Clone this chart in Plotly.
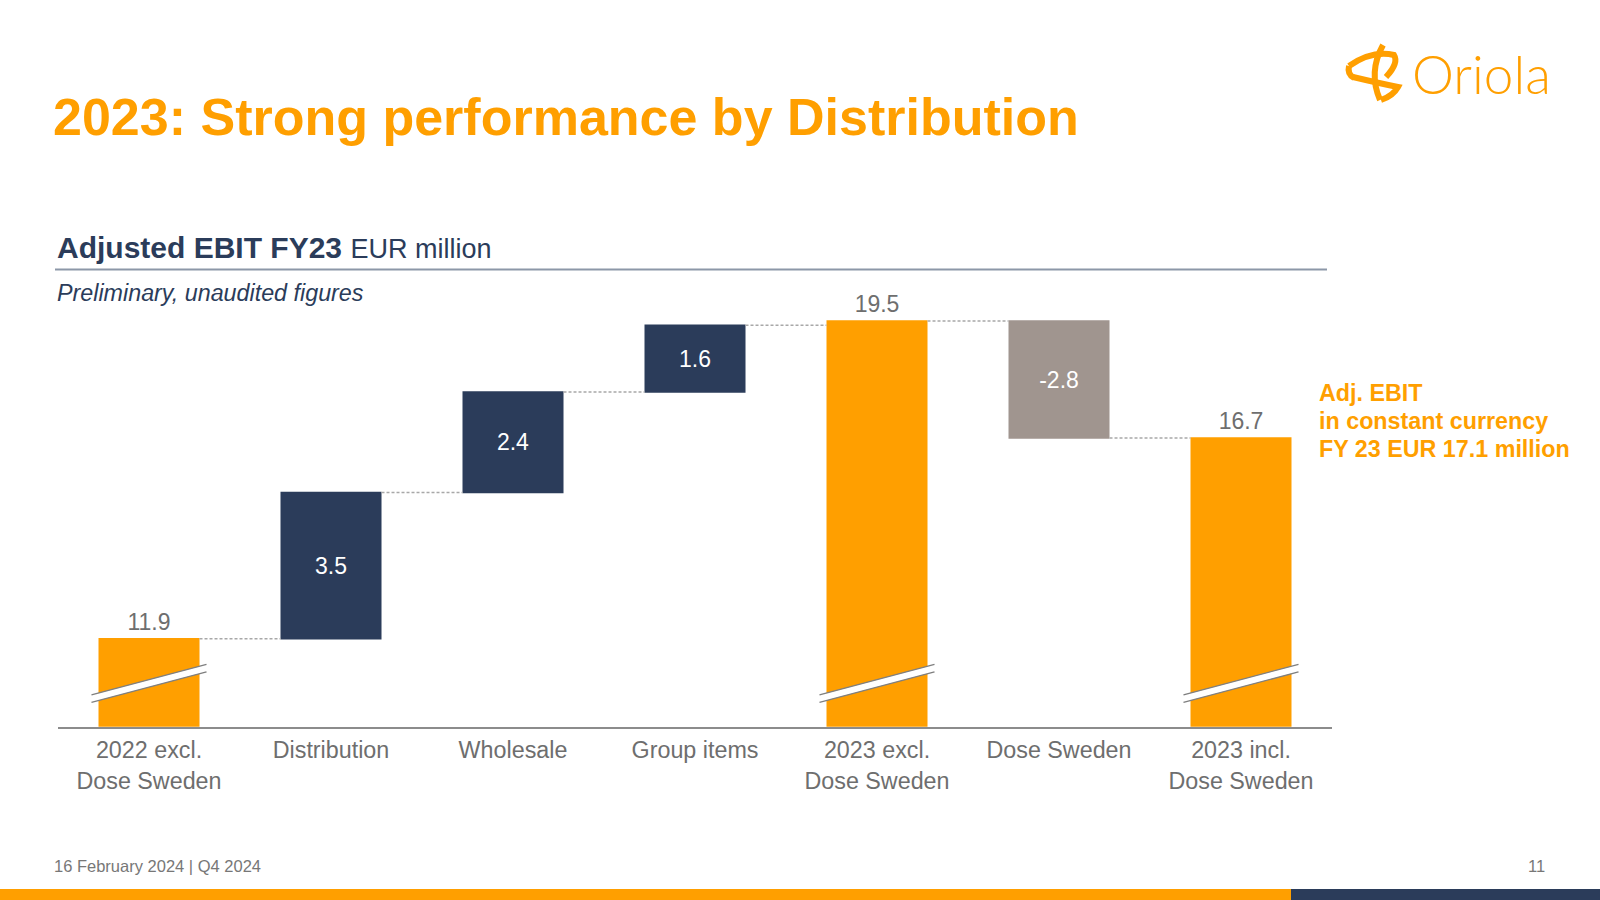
import plotly.graph_objects as go

# ---- data ----
categories = ["2022 excl.<br>Dose Sweden", "Distribution", "Wholesale", "Group items",
              "2023 excl.<br>Dose Sweden", "Dose Sweden", "2023 incl.<br>Dose Sweden"]
values = [11.9, 3.5, 2.4, 1.6, 19.5, -2.8, 16.7]
measures = ["absolute", "relative", "relative", "relative", "absolute", "relative", "absolute"]
text_positions = ["outside", "inside", "inside", "inside", "outside", "inside", "outside"]
broken_bars = [0, 4, 6]
side_note = ["Adj. EBIT", "in constant currency", "FY 23 EUR 17.1 million"]

ORANGE = "#FF9F00"
NAVY = "#2B3C5A"
GREY_BAR = "#A0958F"
TEXT_GREY = "#6E6E6E"
FONT = "Liberation Sans, Arial, sans-serif"

W, H = 1600, 900


def px(x, y):
    return x / W, 1 - y / H


fig = go.Figure()
fig.add_trace(go.Waterfall(
    x=categories,
    y=values,
    measure=measures,
    text=[f"{v:.1f}" for v in values],
    textposition=text_positions,
    insidetextanchor="middle",
    constraintext="none",
    insidetextfont=dict(family=FONT, size=23, color="white"),
    outsidetextfont=dict(family=FONT, size=23, color=TEXT_GREY),
    increasing=dict(marker=dict(color=NAVY)),
    decreasing=dict(marker=dict(color=GREY_BAR)),
    totals=dict(marker=dict(color=ORANGE)),
    connector=dict(mode="between", line=dict(color="#A8A8A8", width=1.5, dash="3px,2px")),
    hoverinfo="skip",
))

shapes = []
# axis break marks on the truncated bars
for i in broken_bars:
    x0, x1 = i - 0.316, i + 0.316
    y0, y1 = 10.47, 11.20
    shapes.append(dict(type="line", xref="x", yref="y", x0=x0, x1=x1, y0=y0, y1=y1,
                       line=dict(color="white", width=7)))
    for d in (-0.09, 0.09):
        shapes.append(dict(type="line", xref="x", yref="y", x0=x0, x1=x1,
                           y0=y0 + d, y1=y1 + d, line=dict(color="#7F7F7F", width=1.3)))

# underline of subtitle
ax, ay = px(55, 269.5)
bx, _ = px(1327, 269.5)
shapes.append(dict(type="line", xref="paper", yref="paper", x0=ax, x1=bx, y0=ay, y1=ay,
                   line=dict(color="#8C97A8", width=2)))

# bottom strip
sx0, sy0 = px(0, 900)
sx1, sy1 = px(1291, 889)
shapes.append(dict(type="rect", xref="paper", yref="paper", x0=sx0, x1=sx1, y0=sy0, y1=sy1,
                   fillcolor=ORANGE, line=dict(width=0)))
shapes.append(dict(type="rect", xref="paper", yref="paper", x0=sx1, x1=1, y0=sy0, y1=sy1,
                   fillcolor=NAVY, line=dict(width=0)))


def path_from(points_cmds):
    out = []
    for cmd, pts in points_cmds:
        coords = " ".join(f"{px(x, y)[0]:.5f},{px(x, y)[1]:.5f}" for x, y in pts)
        out.append(f"{cmd} {coords}")
    return " ".join(out)


logo_paths = [
    [("M", [(1349, 66)]), ("Q", [(1372, 50), (1394, 55)]), ("Q", [(1399, 63), (1386, 77)])],
    [("M", [(1383, 45)]), ("Q", [(1368, 72), (1380, 100)])],
    [("M", [(1353, 77)]), ("Q", [(1378, 83), (1398, 87)]), ("Q", [(1393, 96), (1381, 100)])],
    [("M", [(1349, 66)]), ("Q", [(1347, 74), (1354, 78)])],
]
for p in logo_paths:
    shapes.append(dict(type="path", xref="paper", yref="paper", path=path_from(p),
                       line=dict(color=ORANGE, width=6)))

annotations = []


def ann(text, x, y, size, color, xanchor="left", bold=False, **kw):
    xx, yy = px(x, y)
    annotations.append(dict(text=f"<b>{text}</b>" if bold else text, x=xx, y=yy,
                            xref="paper", yref="paper", xanchor=xanchor, yanchor="middle",
                            showarrow=False, align=xanchor if xanchor != "center" else "center",
                            font=dict(family=FONT, size=size, color=color), **kw))


ann("2023: Strong performance by Distribution", 51, 117, 52, ORANGE, bold=True)
ann("<b>Adjusted EBIT FY23</b> <span style='font-size:27px'>EUR million</span>", 55, 247, 30, NAVY)
ann("<i>Preliminary, unaudited figures</i>", 55, 293, 23.3, NAVY)
for k, line in enumerate(side_note):
    ann(line, 1317, 393 + 28 * k, 23.3, ORANGE, bold=True)
ann("16 February 2024 | Q4 2024", 52, 866, 16.5, "#777777")
ann("11", 1547, 866, 16.5, "#777777", xanchor="right")
xx, yy = px(1410, 74)
annotations.append(dict(text="Oriola", x=xx, y=yy, xref="paper", yref="paper", xanchor="left",
                        yanchor="middle", showarrow=False,
                        font=dict(family="Lato, Open Sans, sans-serif", size=53, color=ORANGE,
                                  weight=300)))

fig.update_layout(
    width=W, height=H,
    margin=dict(l=0, r=0, t=0, b=0),
    paper_bgcolor="white", plot_bgcolor="white",
    showlegend=False,
    waterfallgap=0.445,
    xaxis=dict(domain=[58 / W, 1332 / W], showline=True, linecolor="#8C8C8C", linewidth=1.5,
               ticks="", showgrid=False, zeroline=False, ticklabelstandoff=2,
               tickfont=dict(family=FONT, size=23.3, color=TEXT_GREY)),
    yaxis=dict(domain=[1 - 726.7 / H, 1 - 275 / H], range=[9.8, 20.6], visible=False,
               showgrid=False, zeroline=False),
    shapes=shapes,
    annotations=annotations,
)

fig.write_html("out.html", config={"displayModeBar": False},
               post_script="document.body.style.margin='0';document.body.style.overflow='hidden';")
